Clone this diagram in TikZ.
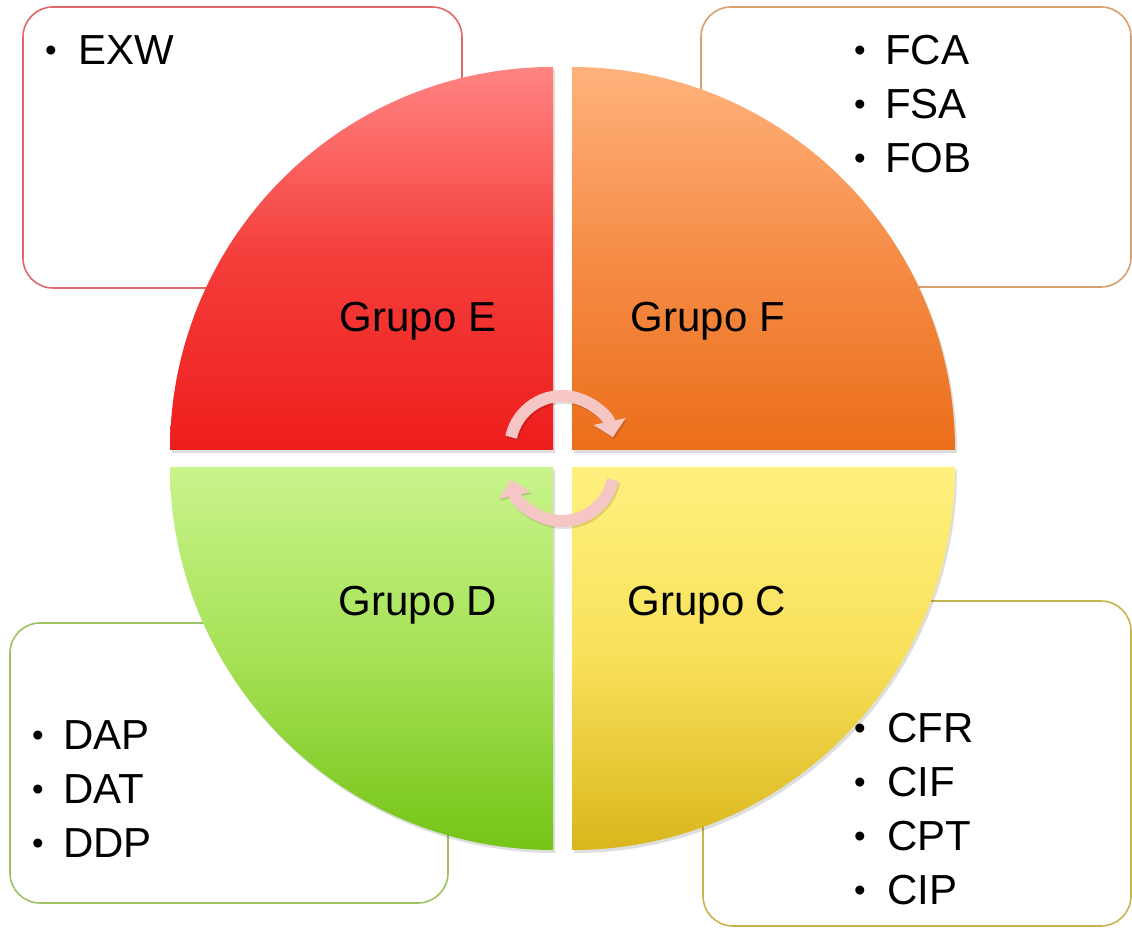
\documentclass[tikz,border=0pt]{standalone}
\usepackage{fontspec}
\setmainfont{Liberation Sans}
\usetikzlibrary{arrows.meta}
\definecolor{eTop}{HTML}{FF8482}
\definecolor{eMid}{HTML}{F43E3A}
\definecolor{eBot}{HTML}{EE1D1D}
\definecolor{fTop}{HTML}{FFB27C}
\definecolor{fMid}{HTML}{F58C46}
\definecolor{fBot}{HTML}{EB6E1A}
\definecolor{dTop}{HTML}{C9F48C}
\definecolor{dMid}{HTML}{A5E155}
\definecolor{dBot}{HTML}{74C416}
\definecolor{cTop}{HTML}{FFF07E}
\definecolor{cMid}{HTML}{F8E05A}
\definecolor{cBot}{HTML}{DAB61C}
\definecolor{eLine}{HTML}{E06868}
\definecolor{fLine}{HTML}{D8A06E}
\definecolor{dLine}{HTML}{9CC262}
\definecolor{cLine}{HTML}{C8B44E}
\definecolor{arrowPink}{HTML}{F5C6C4}
\begin{document}
\begin{tikzpicture}[x=1pt,y=1pt,
  listbox/.style={line width=1.6pt, rounded corners=30pt},
  lbl/.style={font=\fontsize{42}{50}\selectfont, inner sep=0pt, anchor=base},
  item/.style={font=\fontsize{42}{50}\selectfont, inner sep=0pt, anchor=base west},
  bul/.style={font=\fontsize{33}{40}\selectfont, inner sep=0pt, anchor=base},
  cyc/.style={arrowPink, line width=12pt, -{Triangle[width=32pt,length=16pt]}},
  cycshadow/.style={black, opacity=0.12, line width=12pt, -{Triangle[width=32pt,length=16pt]}},
  shadowq/.style={fill=black, opacity=0.13}
]
\useasboundingbox (0,0) rectangle (1132,928);
\clip (0,0) rectangle (1132,928);
\fill[white] (0,0) rectangle (1132,928);

% list boxes
\draw[listbox, eLine] (23,640) rectangle (462,921);
\draw[listbox, fLine] (701,641) rectangle (1131,921);
\draw[listbox, dLine] (10,25) rectangle (448,305);
\draw[listbox, cLine] (703,2) rectangle (1131,327);

% quadrant shadows
\begin{scope}[shift={(2,-3)}]
\fill[shadowq] (553,478) -- (170,478) arc[start angle=180,end angle=90,radius=383] -- cycle;
\fill[shadowq] (572,478) -- (955,478) arc[start angle=0,end angle=90,radius=383] -- cycle;
\fill[shadowq] (553,461) -- (170,461) arc[start angle=180,end angle=270,radius=383] -- cycle;
\fill[shadowq] (572,461) -- (955,461) arc[start angle=0,end angle=-90,radius=383] -- cycle;
\end{scope}

% quadrants
\shade[top color=eTop, bottom color=eBot, middle color=eMid] (553,478) -- (170,478) arc[start angle=180,end angle=90,radius=383] -- cycle;
\shade[top color=fTop, bottom color=fBot, middle color=fMid] (572,478) -- (955,478) arc[start angle=0,end angle=90,radius=383] -- cycle;
\shade[top color=dTop, bottom color=dBot, middle color=dMid] (553,461) -- (170,461) arc[start angle=180,end angle=270,radius=383] -- cycle;
\shade[top color=cTop, bottom color=cBot, middle color=cMid] (572,461) -- (955,461) arc[start angle=0,end angle=-90,radius=383] -- cycle;

% group labels
\node[lbl] (gE) at (418,596) {Grupo E};
\node[lbl] (gF) at (708,596) {Grupo F};
\node[lbl] (gD) at (418,312) {Grupo D};
\node[lbl] (gC) at (707,312) {Grupo C};

% cycle arrows
\coordinate (cT) at (562,480);
\coordinate (cB) at (562,459);
\draw[cycshadow] ([shift={(1.5,-2)}]cT) ++(168:52) arc[start angle=168,end angle=12,radius=52];
\draw[cycshadow] ([shift={(1.5,-2)}]cB) ++(-12:52) arc[start angle=-12,end angle=-168,radius=52];
\draw[cyc] (cT) ++(168:52) arc[start angle=168,end angle=12,radius=52];
\draw[cyc] (cB) ++(-12:52) arc[start angle=-12,end angle=-168,radius=52];

% lists
\node[bul] (bE1) at (51,866) {•};
\node[item] (tE1) at (78,863) {EXW};

\foreach \t/\y [count=\i] in {FCA/863, FSA/809, FOB/755}{
  \node[bul] (bF\i) at (860,\y+3) {•};
  \node[item] (tF\i) at (885,\y) {\t};
}
\foreach \t/\y [count=\i] in {DAP/178, DAT/124, DDP/70}{
  \node[bul] (bD\i) at (38,\y+3) {•};
  \node[item] (tD\i) at (63,\y) {\t};
}
\foreach \t/\y [count=\i] in {CFR/185, CIF/131, CPT/77, CIP/23}{
  \node[bul] (bC\i) at (860,\y+3) {•};
  \node[item] (tC\i) at (887,\y) {\t};
}
\end{tikzpicture}
\end{document}
